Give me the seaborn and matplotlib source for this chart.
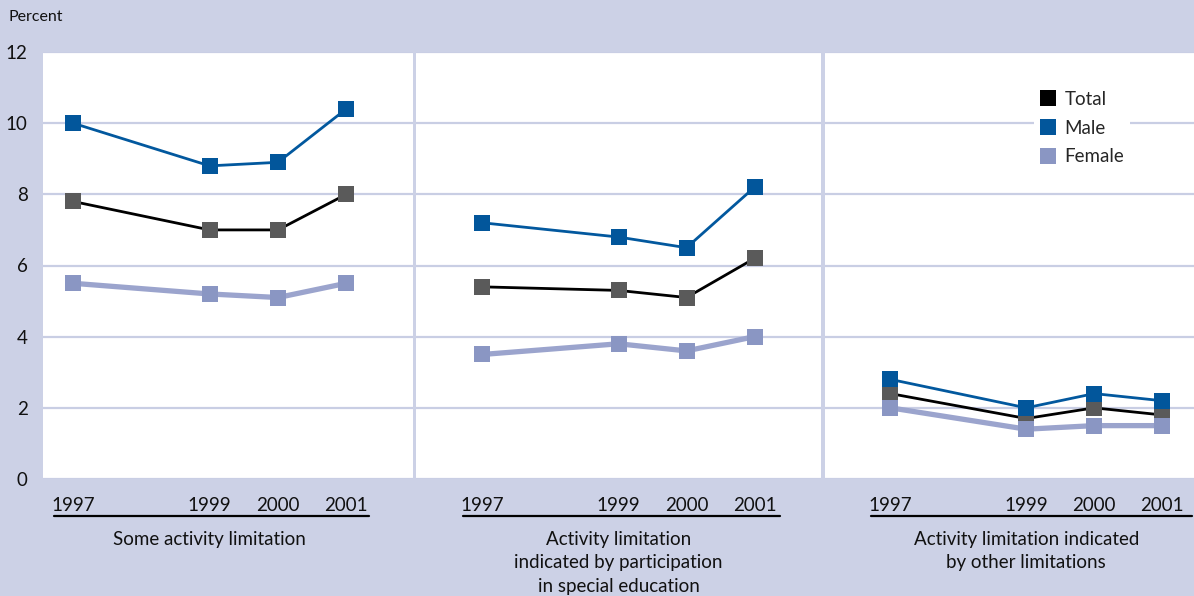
import pandas as pd
import numpy as np
import matplotlib.pyplot as plt
import seaborn as sns
from matplotlib.lines import Line2D

sns.set_theme(style="white")
plt.rcParams['font.family'] = ['Lato', 'DejaVu Sans']

# values
years = [1997, 1999, 2000, 2001]
panels = [
    "Some activity limitation",
    "Activity limitation\nindicated by participation\nin special education",
    "Activity limitation indicated\nby other limitations",
]
total = [[7.8, 7.0, 7.0, 8.0], [5.4, 5.3, 5.1, 6.2], [2.4, 1.7, 2.0, 1.8]]
male = [[10.0, 8.8, 8.9, 10.4], [7.2, 6.8, 6.5, 8.2], [2.8, 2.0, 2.4, 2.2]]
female = [[5.5, 5.2, 5.1, 5.5], [3.5, 3.8, 3.6, 4.0], [2.0, 1.4, 1.5, 1.5]]

rows = []
for i, p in enumerate(panels):
    for name, vals in [("Total", total), ("Male", male), ("Female", female)]:
        for y, v in zip(years, vals[i]):
            rows.append({"panel": p, "group": name, "year": y, "pct": v})
df = pd.DataFrame(rows)

BG = '#ccd1e6'
GRID = '#c9cee4'
styles = {
    "Total": dict(color='black', markerfacecolor='#5a5a5a', lw=2.0),
    "Female": dict(color='#9ba4cd', markerfacecolor='#8a96c3', lw=3.8),
    "Male": dict(color='#02589e', markerfacecolor='#02569b', lw=2.0),
}
legend_colors = {"Total": 'black', "Male": '#02569b', "Female": '#8a96c3'}

W, H = 1194, 596
fig = plt.figure(figsize=(W / 100, H / 100), dpi=100, facecolor=BG)

# panel extents in pixels and x limits
boxes = [(43, 412.5), (415.5, 821.5), (824.5, 1194)]
xlims = [(1996.56, 2001.97), (1996.015, 2001.985), (1996.03, 2001.47)]
line_ext = [(-0.28, 0.34), (-0.29, 0.37), (-0.29, 0.44)]
top, bot = 52, 479
FS = 13.5

for i, p in enumerate(panels):
    x0, x1 = boxes[i]
    ax = fig.add_axes([x0 / W, (H - bot) / H, (x1 - x0) / W, (bot - top) / H])
    ax.set_facecolor('white')
    sub = df[df.panel == p]
    for name in ["Total", "Female", "Male"]:
        s = styles[name]
        sns.lineplot(data=sub[sub.group == name], x='year', y='pct', ax=ax,
                     color=s['color'], lw=s['lw'], marker='s', markersize=11.5,
                     markerfacecolor=s['markerfacecolor'], markeredgewidth=0,
                     legend=False)
    ax.set_xlim(*xlims[i])
    ax.set_ylim(0, 12)
    ax.set_yticks(range(0, 13, 2))
    ax.set_xticks([1997, 1998, 1999, 2000, 2001])
    ax.set_xticklabels(['1997', '', '1999', '2000', '2001'], fontsize=FS, color='#111111')
    ax.tick_params(axis='x', direction='in', length=7, width=1.5, color=GRID, pad=13)
    ax.tick_params(axis='y', length=0, pad=11, labelsize=FS, labelcolor='#111111')
    if i > 0:
        ax.tick_params(axis='y', labelleft=False)
    ax.grid(axis='y', color=GRID, lw=1.6)
    ax.set_axisbelow(True)
    for sp in ax.spines.values():
        sp.set_visible(False)
    ax.set_xlabel('')
    ax.set_ylabel('')

    # underline under the year labels and panel caption
    lo, hi = line_ext[i]
    ax.plot([1997 + lo, 2001 + hi], [-0.087, -0.087], color='black', lw=1.6,
            transform=ax.get_xaxis_transform(), clip_on=False)
    ax.text(1999, -0.122, p, transform=ax.get_xaxis_transform(), ha='center',
            va='top', fontsize=FS, color='#111111', linespacing=1.45)

    if i == 2:
        handles = [Line2D([], [], ls='none', marker='s', markersize=12,
                          markerfacecolor=legend_colors[n], markeredgewidth=0)
                   for n in ["Total", "Male", "Female"]]
        leg = ax.legend(handles, ["Total", "Male", "Female"], loc='upper left',
                        bbox_to_anchor=(1025 / W, (H - 76) / H),
                        bbox_transform=fig.transFigure, frameon=True,
                        facecolor='white', edgecolor='none', fontsize=FS,
                        handlelength=0.8, handletextpad=0.5, labelspacing=0.62,
                        borderpad=0.3, framealpha=1)

fig.text(8 / W, (H - 17) / H, "Percent", fontsize=11.5, va='center', ha='left', color='#111111')

fig.savefig('out.png', dpi=100, facecolor=BG)
